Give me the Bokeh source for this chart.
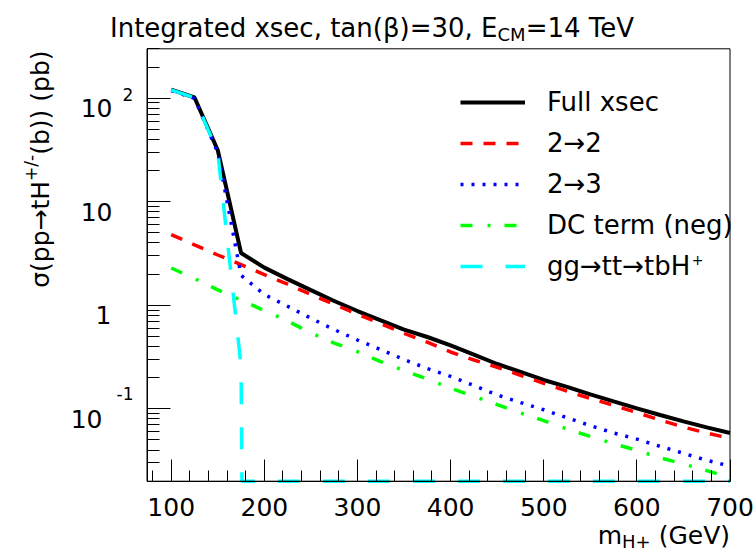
import numpy as np
from bokeh.plotting import figure
from bokeh.models import (Range1d, FixedTicker, Label, Legend, LegendItem,
                          CustomJSTickFormatter, BoxAnnotation)
from bokeh.embed import file_html
from bokeh.resources import INLINE

# ---------------- data ----------------
mass = [100, 125, 150, 175, 200, 225, 250, 275, 300, 325, 350, 375, 400,
        425, 450, 475, 500, 525, 550, 575, 600, 625, 650, 675, 700]

full_xsec = [121, 101.6, 31.4, 3.2, 2.31, 1.79, 1.40, 1.10, 0.88, 0.716,
             0.582, 0.494, 0.411, 0.334, 0.271, 0.227, 0.190, 0.163, 0.138,
             0.118, 0.101, 0.0871, 0.0757, 0.0662, 0.0584]

xsec_2to2 = [4.82, 3.83, 3.06, 2.47, 1.98, 1.60, 1.27, 1.02, 0.819, 0.665,
             0.536, 0.44, 0.354, 0.296, 0.252, 0.211, 0.176, 0.148, 0.126,
             0.108, 0.0919, 0.078, 0.0667, 0.0584, 0.052]

xsec_2to3 = [118.5, 99.6, 29.8, 1.95, 1.27, 0.978, 0.749, 0.582, 0.462,
             0.373, 0.299, 0.245, 0.206, 0.168, 0.136, 0.115, 0.098, 0.082,
             0.0688, 0.0584, 0.051, 0.0434, 0.0372, 0.0318, 0.028]

dc_term = [2.29, 1.81, 1.41, 1.12, 0.889, 0.705, 0.540, 0.432, 0.357, 0.286,
           0.234, 0.194, 0.158, 0.132, 0.110, 0.0912, 0.0769, 0.0638, 0.0542,
           0.0461, 0.0397, 0.0337, 0.0293, 0.0253, 0.0216]

gg_tt_tbH = [120, 101, 30, 0.26, 0, 0, 0, 0, 0, 0, 0, 0, 0, 0, 0, 0, 0, 0,
             0, 0, 0, 0, 0, 0, 0]

x_major_ticks = [100, 200, 300, 400, 500, 600, 700]
x_tick_labels = {100: "100", 200: "200", 300: "300", 400: "400",
                 500: "500", 600: "600", 700: "700"}
x_minor_ticks = [80, 120, 140, 160, 180, 220, 240, 260, 280, 320, 340, 360,
                 380, 420, 440, 460, 480, 520, 540, 560, 580, 620, 640, 660,
                 680]
y_major_ticks = [0.1, 1, 10, 100]
y_minor_ticks = [0.02, 0.03, 0.04, 0.05, 0.06, 0.07, 0.08, 0.09,
                 0.2, 0.3, 0.4, 0.5, 0.6, 0.7, 0.8, 0.9,
                 2, 3, 4, 5, 6, 7, 8, 9,
                 20, 30, 40, 50, 60, 70, 80, 90, 200, 300]

legend_labels = ["Full xsec", "2\u21922", "2\u21923", "DC term (neg)",
                 "gg\u2192tt\u2192tbH"]

XMIN, XMAX = 74.0, 700.0
YMIN, YMAX = 0.02, 300.0
FONT = "DejaVu Sans"

# page / frame geometry (pixels)
W, H = 756, 552
FL, FR, FT, FB = 146.5, 729.5, 48.3, 480.7

# DejaVu Sans advance widths (em) used to chain text pieces
_W = {' ': .318, '(': .390, ')': .390, '+': .838, '-': .361, '/': .337,
      '=': .838, ',': .318, 'C': .698, 'E': .632, 'G': .775, 'H': .752,
      'I': .295, 'M': .863, 'T': .611, 'V': .684, 'a': .613, 'b': .635,
      'c': .550, 'd': .635, 'e': .615, 'g': .635, 'm': .974, 'n': .634,
      'p': .635, 'r': .411, 's': .521, 't': .392, 'x': .592,
      '\u03b2': .640, '\u03c3': .634, '\u2192': .838}


def tw(s, size):
    return sum(_W.get(c, .636) for c in s) * size


# ranges extended so that the whole canvas is the plotting area and the
# axes frame [XMIN,XMAX]x[YMIN,YMAX] sits where the reference has it
sx = (FR - FL) / (XMAX - XMIN)
x_lo = XMIN - FL / sx
x_hi = XMAX + (W - FR) / sx
ly0, ly1 = np.log10(YMIN), np.log10(YMAX)
sy = (FB - FT) / (ly1 - ly0)
y_lo = 10 ** (ly0 - (H - FB) / sy)
y_hi = 10 ** (ly1 + FT / sy)

p = figure(width=W, height=H, x_range=Range1d(x_lo, x_hi),
           y_range=Range1d(y_lo, y_hi), y_axis_type="log",
           output_backend="svg", toolbar_location=None, title=None,
           min_border=0, min_border_left=0, min_border_right=0,
           min_border_top=0, min_border_bottom=0)
p.background_fill_color = "white"
p.border_fill_color = "white"
p.outline_line_color = None
p.xgrid.visible = False
p.ygrid.visible = False

p.add_layout(BoxAnnotation(left=XMIN, right=XMAX, bottom=YMIN, top=YMAX,
                           fill_alpha=0, line_color="black", line_width=1,
                           line_alpha=1))

xa = p.xaxis[0]
xa.fixed_location = YMIN
xa.bounds = (XMIN, XMAX)
xa.ticker = FixedTicker(ticks=x_major_ticks, minor_ticks=x_minor_ticks)
xa.major_label_overrides = x_tick_labels
xa.major_tick_in = 22
xa.major_tick_out = 0
xa.minor_tick_in = 11
xa.minor_tick_out = 0
xa.major_label_text_font = FONT
xa.major_label_text_font_size = "25px"
xa.major_label_text_color = "black"
xa.major_label_standoff = 17
xa.axis_line_color = "black"
xa.major_tick_line_color = "black"
xa.minor_tick_line_color = "black"

ya = p.yaxis[0]
ya.fixed_location = XMIN
ya.bounds = (YMIN, YMAX)
ya.ticker = FixedTicker(ticks=y_major_ticks, minor_ticks=y_minor_ticks)
ya.formatter = CustomJSTickFormatter(code="return '';")
ya.major_tick_in = 23
ya.major_tick_out = 0
ya.minor_tick_in = 12
ya.minor_tick_out = 0
ya.axis_line_color = "black"
ya.major_tick_line_color = "black"
ya.minor_tick_line_color = "black"

# ---------------- curves ----------------
r_full = p.line(mass, full_xsec, line_color="black", line_width=4)
r_22 = p.line(mass, xsec_2to2, line_color="#ff0000", line_width=3.5,
              line_dash="12 11")
r_23 = p.line(mass, xsec_2to3, line_color="#0000ff", line_width=3.5,
              line_dash="3 8")
r_dc = p.line(mass, dc_term, line_color="#00ff00", line_width=3.5,
              line_dash="12 15 3 14")

# gg->tt->tbH+ vanishes above threshold: the curve drops steeply to the
# frame floor and, ROOT style, the vanishing points are painted on the floor
m = np.array(mass, dtype=float)
g = np.array(gg_tt_tbH, dtype=float)
k = int(np.argmax(g <= 0))          # first vanishing point
FLOOR = 1e-30
l0, l1 = np.log10(g[k - 1]), np.log10(FLOOR)
t = (ly0 - l0) / (l1 - l0)
x_cross = m[k - 1] + t * (m[k] - m[k - 1])
xs_c = list(m[:k]) + [x_cross] + list(m[k:])
ys_c = list(g[:k]) + [YMIN] * (len(m) - k + 1)
r_cy = p.line(xs_c, ys_c, line_color="#00ffff", line_width=3.5,
              line_dash="22 23")

# ---------------- legend ----------------
legend = Legend(items=[LegendItem(label=legend_labels[0], renderers=[r_full]),
                       LegendItem(label=legend_labels[1], renderers=[r_22]),
                       LegendItem(label=legend_labels[2], renderers=[r_23]),
                       LegendItem(label=legend_labels[3], renderers=[r_dc]),
                       LegendItem(label=legend_labels[4], renderers=[r_cy])],
                location=(460, 271), orientation="vertical",
                glyph_width=65, glyph_height=30, label_height=30,
                label_standoff=22, spacing=11, padding=0, margin=0,
                border_line_alpha=0, background_fill_alpha=0,
                label_text_font=FONT, label_text_font_size="26px",
                label_text_color="black")
p.add_layout(legend)

# ---------------- texts ----------------


def label(text, x, y, xo, yo, size, align="left", angle=0.0):
    p.add_layout(Label(x=x, y=y, x_offset=xo, y_offset=yo, text=text,
                       text_font=FONT, text_font_size=f"{size}px",
                       text_align=align, text_baseline="alphabetic",
                       angle=angle, text_color="black"))


def tl(text, X, Y, size, align="left", angle=0.0):
    """place text at page pixel (X, Y), anchored to the frame top-left"""
    label(text, XMIN, YMAX, X - FL, FT - Y, size, align, angle)


# title
T1, T2, T3 = "Integrated xsec, tan(\u03b2)=30, E", "CM", "=14 TeV"
tx = 109.5
tl(T1, tx, 27.7, 26)
tx2 = tx + tw(T1, 26)
tl(T2, tx2, 33.5, 18)
tl(T3, tx2 + tw(T2, 18), 27.7, 26)

# y axis title (rotated, reading upwards, ending near the frame top)
Y1, Y2, Y3 = "\u03c3(pp\u2192tH", "+/-", "(b)) (pb)"
ybase = 39.7
yend = 50.0
tl(Y3, ybase, yend, 25, "right", np.pi / 2)
y2 = yend + tw(Y3, 25)
tl(Y2, ybase - 9.5, y2, 17, "right", np.pi / 2)
y1 = y2 + tw(Y2, 17)
tl(Y1, ybase, y1, 25, "right", np.pi / 2)

# y tick labels (ROOT style powers of ten)
label("10", XMIN, 100, 112 - FL, -10, 25, "right")
label("2", XMIN, 100, 122 - FL, 4, 17, "left")
label("10", XMIN, 10, 112 - FL, -10, 25, "right")
label("1", XMIN, 1, 111 - FL, -10, 25, "right")
label("10", XMIN, 0.1, 102 - FL, -10, 25, "right")
label("-1", XMIN, 0.1, 116 - FL, 15, 17, "left")

# x axis title, right aligned at the frame edge: m_{H+} (GeV)
X1, X2, X3 = "m", "H+", "(GeV)"
xb = 535.0
xr = 729.5
label(X3, XMAX, YMIN, xr - FR, FB - xb, 25, "right")
xr2 = xr - tw(X3, 25) - tw(" ", 25)
label(X2, XMAX, YMIN, xr2 - FR, FB - (xb + 6), 18, "right")
xr1 = xr2 - tw(X2, 18)
label(X1, XMAX, YMIN, xr1 - FR, FB - xb, 25, "right")

# superscript of the last legend entry
leg_text_x = 460 + 65 + 22
tl("+", leg_text_x + tw(legend_labels[4], 26) + 1, 259.0, 14)

open("out.html", "w").write(file_html(p, INLINE))
